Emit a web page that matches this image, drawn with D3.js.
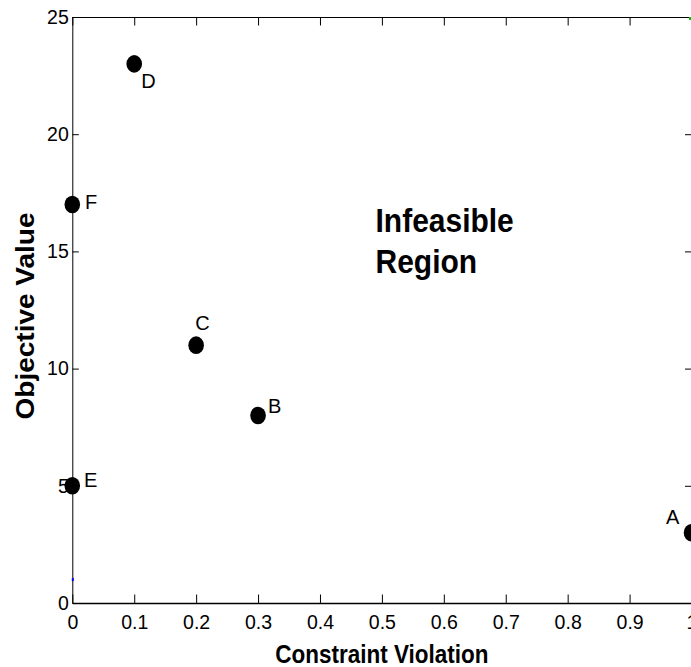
<!DOCTYPE html>
<html><head><meta charset="utf-8">
<script src="https://cdn.jsdelivr.net/npm/d3@7"></script>
<style>
body{margin:0;background:#fff}
svg{display:block}
text{font-family:"Liberation Sans",Arial,Helvetica,sans-serif;fill:#000}
</style>
</head><body>
<svg id="c" width="691" height="667"></svg>
<script>
// ---- data ----
const labels = ["A", "B", "C", "D", "E", "F"];
const violation = [1.0, 0.3, 0.2, 0.1, 0.0, 0.0];
const objective = [3, 8, 11, 23, 5, 17];
const xTicks = [0, 0.1, 0.2, 0.3, 0.4, 0.5, 0.6, 0.7, 0.8, 0.9, 1];
const xTickLabels = ["0", "0.1", "0.2", "0.3", "0.4", "0.5", "0.6", "0.7", "0.8", "0.9", "1"];
const yTicks = [0, 5, 10, 15, 20, 25];
const yTickLabels = ["0", "5", "10", "15", "20", "25"];
const extraX = [0, 1];
const extraY = [1, 25];
const extraColors = ["#0000ff", "#00c000"];
const regionText = ["Infeasible", "Region"];
const xTitle = "Constraint Violation";
const yTitle = "Objective Value";

// ---- layout ----
const L = 72.3, R = 691.5, T = 17, B = 603;
const labelOffsets = {A: [-25.5, -8.7], B: [10, -2.5], C: [-0.8, -15], D: [7, 24.4], E: [11.8, 1], F: [12.8, 4]};

const svg = d3.select("#c");
const x = d3.scaleLinear().domain([0, 1]).range([L, R]);
const y = d3.scaleLinear().domain([0, 25]).range([B, T]);

function styleAxis(g) {
  g.selectAll("path.domain").attr("stroke", "#000").attr("stroke-width", 1);
  g.selectAll(".tick line").attr("stroke", "#000").attr("stroke-width", 1);
  g.selectAll(".tick text").style("font-size", "19.5px").attr("fill", "#000");
}

// bottom axis
svg.append("g").attr("transform", `translate(0,${B})`)
  .call(d3.axisBottom(x).tickValues(xTicks).tickFormat((d, i) => xTickLabels[i])
    .tickSizeInner(-8.5).tickSizeOuter(0).tickPadding(12))
  .call(styleAxis)
  .call(g => g.select("path.domain").attr("stroke-width", 1.6));
// top axis
svg.append("g").attr("transform", `translate(0,${T})`)
  .call(d3.axisTop(x).tickValues(xTicks).tickFormat("").tickSizeInner(-8.5).tickSizeOuter(0))
  .call(styleAxis);
// left axis
svg.append("g").attr("transform", `translate(${L},0)`)
  .call(d3.axisLeft(y).tickValues(yTicks).tickFormat((d, i) => yTickLabels[i])
    .tickSizeInner(-6.5).tickSizeOuter(0).tickPadding(3.5))
  .call(styleAxis);
// right axis
svg.append("g").attr("transform", `translate(${R},0)`)
  .call(d3.axisRight(y).tickValues(yTicks).tickFormat("").tickSizeInner(-6.5).tickSizeOuter(0))
  .call(styleAxis);

// tiny extra marks
svg.append("g").selectAll("rect").data(extraX).join("rect")
  .attr("x", (d) => Math.min(x(d) - 0.5, 689))
  .attr("y", (d, i) => Math.max(y(extraY[i]) - 1.5, T))
  .attr("width", 2).attr("height", 3)
  .attr("fill", (d, i) => extraColors[i]);

// markers
svg.append("g").selectAll("ellipse").data(labels).join("ellipse")
  .attr("cx", (d, i) => x(violation[i]))
  .attr("cy", (d, i) => y(objective[i]))
  .attr("rx", 7.8).attr("ry", 8.8)
  .attr("fill", "#000");

// point labels
svg.append("g").selectAll("text").data(labels).join("text")
  .attr("x", (d, i) => x(violation[i]) + labelOffsets[d][0])
  .attr("y", (d, i) => y(objective[i]) + labelOffsets[d][1])
  .style("font-size", "20px")
  .text(d => d);

// region annotation
svg.append("g").selectAll("text").data(regionText).join("text")
  .attr("transform", (d, i) => `translate(375.5,${231.7 + i * 41}) scale(1,1.1)`)
  .style("font-size", "30px").style("font-weight", "bold")
  .text(d => d);

// axis titles
svg.append("text")
  .attr("transform", `translate(${(L + R) / 2},663) scale(1,1.15)`)
  .attr("text-anchor", "middle")
  .style("font-size", "22.5px").style("font-weight", "bold")
  .text(xTitle);
svg.append("text")
  .attr("transform", `translate(34,316) rotate(-90) scale(1.12,1)`)
  .attr("text-anchor", "middle")
  .style("font-size", "25px").style("font-weight", "bold")
  .text(yTitle);
</script>
</body></html>
